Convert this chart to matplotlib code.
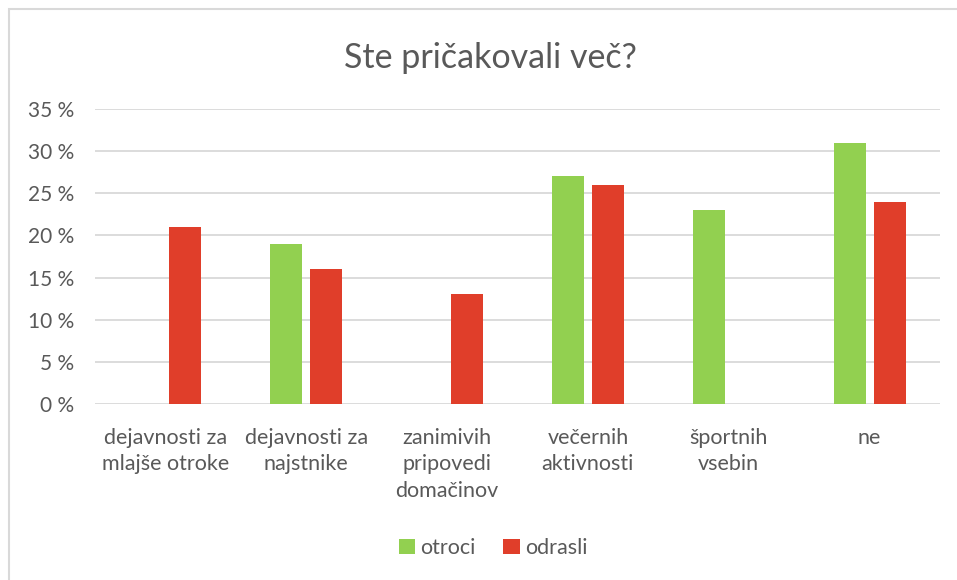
import matplotlib
matplotlib.use("Agg")
import matplotlib.pyplot as plt
import numpy as np
from matplotlib.patches import Rectangle

categories = ["dejavnosti za\nmlajše otroke", "dejavnosti za\nnajstnike", "zanimivih\npripovedi\ndomačinov",
              "večernih\naktivnosti", "športnih\nvsebin", "ne"]
otroci = [0, 19, 0, 27, 23, 31]
odrasli = [21, 16, 13, 26, 0, 24]
yticks = [0, 5, 10, 15, 20, 25, 30, 35]

plt.rcParams['font.family'] = ['Lato', 'DejaVu Sans']
txt = '#595959'
green = '#92D050'
red = '#E03E2A'

fig = plt.figure(figsize=(9.57, 5.80), dpi=100)
fig.patches.append(Rectangle((8.5/957, -0.1), 1.2, 1.1 - 9.5/580, transform=fig.transFigure,
                             fill=False, edgecolor='#D9D9D9', linewidth=1.5))
ax = fig.add_axes([95/957, 1-404/580, (940-95)/957, (404-109)/580])

x = np.arange(len(categories))
w = 0.227
off = 0.142
ax.bar(x - off, otroci, w, color=green, label='otroci', zorder=3)
ax.bar(x + off, odrasli, w, color=red, label='odrasli', zorder=3)

ax.set_xlim(-0.5, len(categories) - 0.5)
ax.set_ylim(0, 35)
ax.set_yticks(yticks)
ax.set_yticklabels([f"{v} %" for v in yticks], color=txt, fontsize=15)
ax.set_xticks(x)
ax.set_xticklabels(categories, color=txt, fontsize=15.5, linespacing=1.42, va='top')
ax.tick_params(axis='both', length=0)
ax.tick_params(axis='x', pad=17)
ax.tick_params(axis='y', pad=15)
ax.grid(axis='y', color='#D9D9D9', linewidth=1.3, zorder=0)
for s in ax.spines.values():
    s.set_visible(False)

fig.text(490/957, 1-58/580, "Ste pričakovali več?", ha='center', va='center', fontsize=24.5, color=txt)

leg = fig.legend(loc='center', bbox_to_anchor=(493/957, 1-548/580), ncol=2, frameon=False,
                 fontsize=15.5, handlelength=0.75, handleheight=0.75, handletextpad=0.25, columnspacing=1.3)
for t in leg.get_texts():
    t.set_color(txt)

fig.savefig("out.png", dpi=100, facecolor='white')
